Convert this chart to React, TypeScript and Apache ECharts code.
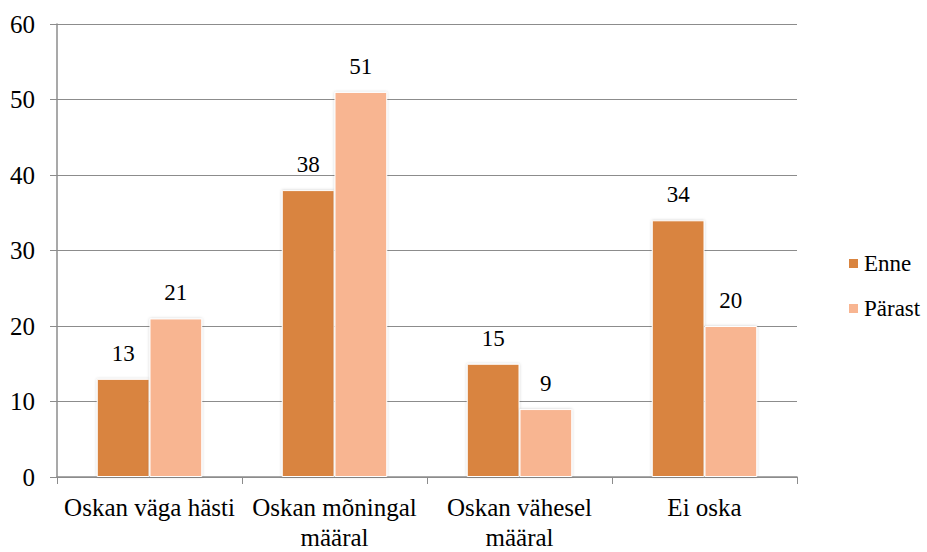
import React, { useEffect, useRef } from "react";
import * as echarts from "echarts";

const categories = ["Oskan väga hästi", "Oskan mõningal\nmääral", "Oskan vähesel\nmääral", "Ei oska"];
const enne = [13, 38, 15, 34];
const parast = [21, 51, 9, 20];
const seriesNames = ["Enne", "Pärast"];
const yTicks = { min: 0, max: 60, interval: 10 };

const FONT = "Liberation Serif";

export default function App() {
  const ref = useRef<HTMLDivElement>(null);
  useEffect(() => {
    if (!ref.current) return;
    const chart = echarts.init(ref.current, null, { renderer: "svg" });
    const barStyle = (color: string) => ({
      color,
      borderColor: "#ffffff",
      borderWidth: 1,
      shadowColor: "rgba(0,0,0,0.2)",
      shadowBlur: 3,
    });
    const lbl = {
      show: true,
      position: "top",
      distance: 14,
      fontFamily: FONT,
      fontSize: 23,
      color: "#000",
    };
    chart.setOption({
      animation: false,
      textStyle: { fontFamily: FONT, fontSize: 24 },
      grid: { left: 57, right: 130, top: 24, bottom: 72, containLabel: false },
      legend: {
        orient: "vertical",
        left: 842,
        top: 247,
        itemWidth: 11,
        itemHeight: 11,
        itemGap: 22,
        icon: "rect",
        textStyle: { fontFamily: FONT, fontSize: 23, color: "#000" },
        data: seriesNames,
      },
      xAxis: {
        type: "category",
        data: categories,
        axisLine: { lineStyle: { color: "#8c8c8c", width: 1.5 } },
        axisTick: { show: true, length: 7, lineStyle: { color: "#8c8c8c" } },
        axisLabel: {
          fontFamily: FONT,
          fontSize: 25,
          color: "#000",
          lineHeight: 30,
          margin: 15,
          interval: 0,
        },
      },
      yAxis: {
        type: "value",
        min: yTicks.min,
        max: yTicks.max,
        interval: yTicks.interval,
        axisLine: { show: true, lineStyle: { color: "#8c8c8c", width: 1.5 } },
        axisTick: { show: true, length: 7, lineStyle: { color: "#8c8c8c" } },
        splitLine: { lineStyle: { color: "#8c8c8c", width: 1.2 } },
        axisLabel: { fontFamily: FONT, fontSize: 25, color: "#000", margin: 22 },
      },
      series: [
        {
          name: seriesNames[0],
          type: "bar",
          data: enne,
          barGap: "0%",
          barCategoryGap: "43%",
          itemStyle: barStyle("#D9843F"),
          label: lbl,
        },
        {
          name: seriesNames[1],
          type: "bar",
          data: parast,
          barGap: "0%",
          barCategoryGap: "43%",
          itemStyle: barStyle("#F8B591"),
          label: lbl,
        },
      ],
    });
    return () => chart.dispose();
  }, []);
  return <div ref={ref} style={{ width: 927, height: 552, position: "absolute", left: 0, top: 0, background: "#fff" }} />;
}
